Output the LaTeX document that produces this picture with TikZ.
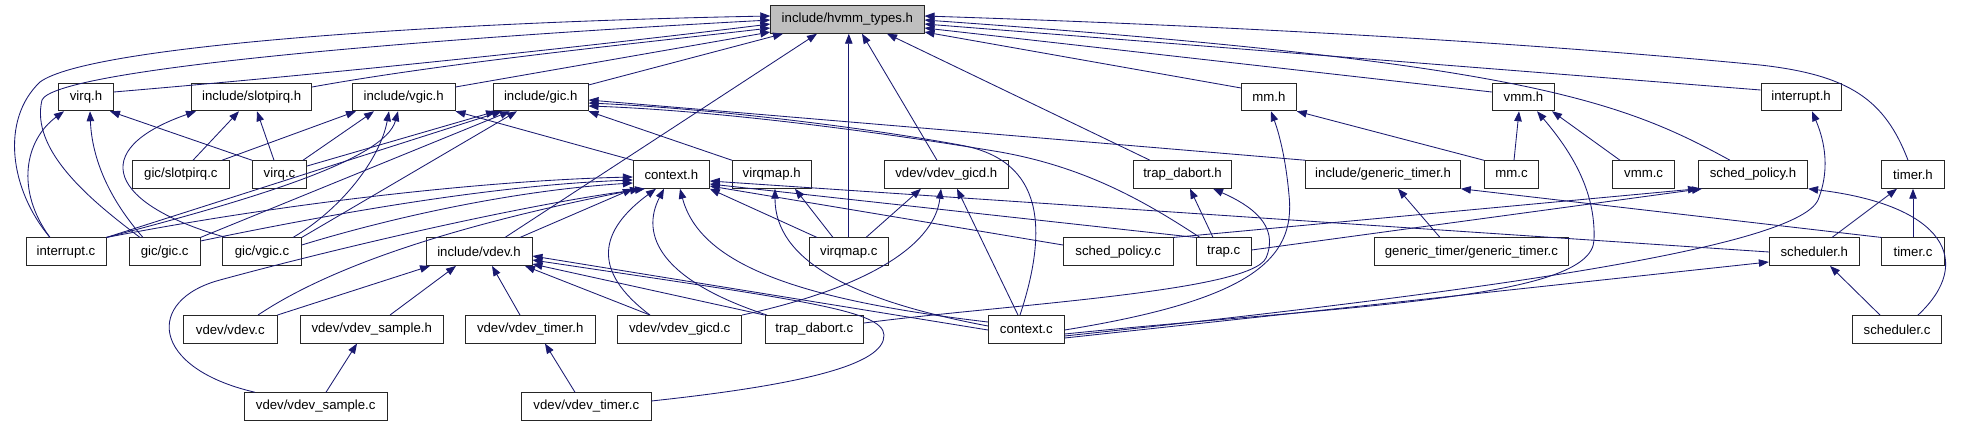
\documentclass[tikz,border=0pt]{standalone}
\usepackage{fontspec}
\setmainfont{Liberation Sans}
\usetikzlibrary{arrows.meta}
\definecolor{edgeblue}{HTML}{191970}
\definecolor{rootgray}{HTML}{BFBFBF}
\begin{document}
\begin{tikzpicture}[x=1pt,y=-1pt,
  nd/.style={draw=black!85,line width=0.9pt,fill=white,minimum height=27.6pt,inner sep=0pt,font=\fontsize{13.2}{15}\selectfont},
  edge/.style={draw=edgeblue,line width=0.85pt,-{Triangle[length=10pt,width=7.5pt]}}]
\useasboundingbox (0,0) rectangle (1967,427);
% row 0
\node[nd,minimum width=153.3pt,fill=rootgray] (hvmm) at (847.4,19.5) {include/hvmm\_types.h};
% row 1
\node[nd,minimum width=54.6pt] (virqh) at (86,97) {virq.h};
\node[nd,minimum width=120pt] (slotpirqh) at (251.7,97) {include/slotpirq.h};
\node[nd,minimum width=102.7pt] (vgich) at (403.7,97) {include/vgic.h};
\node[nd,minimum width=94.7pt] (gich) at (540.7,97) {include/gic.h};
\node[nd,minimum width=54.8pt] (mmh) at (1268.9,97) {mm.h};
\node[nd,minimum width=62.6pt] (vmmh) at (1523.5,97) {vmm.h};
\node[nd,minimum width=80.2pt] (interrupth) at (1801.1,97) {interrupt.h};
% row 2
\node[nd,minimum width=96.3pt] (slotpirqc) at (180.9,174.5) {gic/slotpirq.c};
\node[nd,minimum width=54.4pt] (virqc) at (279.5,174.5) {virq.c};
\node[nd,minimum width=76pt] (contexth) at (671.3,174.5) {context.h};
\node[nd,minimum width=78.7pt] (virqmaph) at (771.7,174.5) {virqmap.h};
\node[nd,minimum width=124pt] (gicdh) at (946.3,174.5) {vdev/vdev\_gicd.h};
\node[nd,minimum width=98.4pt] (trapdaborth) at (1182.5,174.5) {trap\_dabort.h};
\node[nd,minimum width=154.6pt] (gtimerh) at (1383.1,174.5) {include/generic\_timer.h};
\node[nd,minimum width=54.6pt] (mmc) at (1511.6,174.5) {mm.c};
\node[nd,minimum width=62.6pt] (vmmc) at (1643.6,174.5) {vmm.c};
\node[nd,minimum width=109.2pt] (schedpolh) at (1753,174.5) {sched\_policy.h};
\node[nd,minimum width=62.6pt] (timerh) at (1913,174.5) {timer.h};
% row 3
\node[nd,minimum width=80pt] (interruptc) at (66,251.7) {interrupt.c};
\node[nd,minimum width=70.7pt] (gicc) at (164.7,251.7) {gic/gic.c};
\node[nd,minimum width=78.6pt] (vgicc) at (262,251.7) {gic/vgic.c};
\node[nd,minimum width=106pt] (vdevh) at (479,251.7) {include/vdev.h};
\node[nd,minimum width=79pt] (virqmapc) at (848.8,251.7) {virqmap.c};
\node[nd,minimum width=109.5pt] (schedpolc) at (1118.2,251.7) {sched\_policy.c};
\node[nd,minimum width=55pt] (trapc) at (1223.7,251.7) {trap.c};
\node[nd,minimum width=193.6pt] (gtimerc) at (1471.4,251.7) {generic\_timer/generic\_timer.c};
\node[nd,minimum width=90pt] (schedh) at (1814.3,251.7) {scheduler.h};
\node[nd,minimum width=62.6pt] (timerc) at (1913,251.7) {timer.c};
% row 4
\node[nd,minimum width=93.3pt] (vdevc) at (230.3,329.3) {vdev/vdev.c};
\node[nd,minimum width=142.7pt] (vsampleh) at (371.7,329.3) {vdev/vdev\_sample.h};
\node[nd,minimum width=129.7pt] (vtimerh) at (530.2,329.3) {vdev/vdev\_timer.h};
\node[nd,minimum width=124pt] (gicdc) at (679.7,329.3) {vdev/vdev\_gicd.c};
\node[nd,minimum width=98.7pt] (trapdabortc) at (814.3,329.3) {trap\_dabort.c};
\node[nd,minimum width=75.8pt] (contextc) at (1026.3,329.3) {context.c};
\node[nd,minimum width=89.4pt] (schedc) at (1897.1,329.3) {scheduler.c};
% row 5
\node[nd,minimum width=142.7pt] (vsamplec) at (315.7,406.5) {vdev/vdev\_sample.c};
\node[nd,minimum width=129.3pt] (vtimerc) at (586.3,406.5) {vdev/vdev\_timer.c};

% ---- edges into include/hvmm_types.h
\draw[edge] (interruptc.north -| 50,0) .. controls (10,190) and (0,120) .. (40,82) .. controls (90,45) and (450,22) .. (hvmm.west |- 0,16);
\draw[edge] (gicc.north -| 140,0) .. controls (90,200) and (30,150) .. (42,100) .. controls (55,70) and (400,40) .. (hvmm.west |- 0,20);
\draw[edge] (virqh.east |- 0,92) .. controls (350,72) and (600,45) .. (hvmm.west |- 0,24);
\draw[edge] (slotpirqh.east |- 0,87) .. controls (450,62) and (650,42) .. (hvmm.west |- 0,28);
\draw[edge] (vgich.east |- 0,87) -- (hvmm.west |- 0,32);
\draw[edge] (gich.east |- 0,85) -- (783,0 |- hvmm.south);
\draw[edge] (505,0 |- vdevh.north) -- (817,0 |- hvmm.south);
\draw[edge] (virqmapc.north) -- (virqmapc.north |- hvmm.south);
\draw[edge] (937,0 |- gicdh.north) -- (862,0 |- hvmm.south);
\draw[edge] (1150,0 |- trapdaborth.north) -- (887,0 |- hvmm.south);
\draw[edge] (mmh.west |- 0,88) -- (hvmm.east |- 0,32);
\draw[edge] (vmmh.west |- 0,92) -- (hvmm.east |- 0,28);
\draw[edge] (interrupth.west |- 0,90) -- (hvmm.east |- 0,24);
\draw[edge] (1730,0 |- schedpolh.north) .. controls (1620,100) and (1520,62) .. (hvmm.east |- 0,20);
\draw[edge] (1908,0 |- timerh.north) .. controls (1885,100) and (1850,75) .. (1760,65) .. controls (1500,40) and (1200,25) .. (hvmm.east |- 0,16);
% ---- virq.h
\draw[edge] (interruptc.north -| 50,0) .. controls (15,190) and (25,140) .. (64,0 |- virqh.south);
\draw[edge] (143,0 |- gicc.north) .. controls (110,200) and (92,160) .. (90,0 |- virqh.south);
\draw[edge] (252,0 |- virqc.north) -- (110,0 |- virqh.south);
% ---- include/slotpirq.h
\draw[edge] (226,0 |- vgicc.north) .. controls (110,205) and (85,150) .. (196,0 |- slotpirqh.south);
\draw[edge] (193,0 |- slotpirqc.north) -- (239,0 |- slotpirqh.south);
\draw[edge] (274,0 |- virqc.north) -- (257,0 |- slotpirqh.south);
% ---- include/vgic.h
\draw[edge] (222,0 |- slotpirqc.north) -- (356,0 |- vgich.south);
\draw[edge] (303,0 |- virqc.north) -- (374,0 |- vgich.south);
\draw[edge] (293,0 |- vgicc.north) .. controls (340,210) and (380,160) .. (389,0 |- vgich.south);
\draw[edge] (interruptc.north east) .. controls (250,200) and (385,160) .. (398,0 |- vgich.south);
\draw[edge] (contexth.north west) -- (vgich.south east);
% ---- include/gic.h
\draw[edge] (virqc.east |- 0,166) -- (496,0 |- gich.south);
\draw[edge] (interruptc.north east) -- (502,0 |- gich.south);
\draw[edge] (gicc.north east) -- (510,0 |- gich.south);
\draw[edge] (vgicc.north east) -- (517,0 |- gich.south);
\draw[edge] (virqmaph.north west) -- (gich.south east);
\draw[edge] (gtimerh.north west) -- (gich.east |- 0,100);
\draw[edge] (1020,0 |- contextc.north) .. controls (1048,230) and (1045,160) .. (960,145) .. controls (850,125) and (700,108) .. (gich.east |- 0,103);
\draw[edge] (1200,0 |- trapc.north) .. controls (1150,205) and (1090,168) .. (1000,152) .. controls (850,127) and (700,110) .. (gich.east |- 0,106);
% ---- mm.h
\draw[edge] (mmc.north west) -- (mmh.south east);
\draw[edge] (contextc.east |- 0,330) .. controls (1250,300) and (1296,260) .. (1289,195) .. controls (1285,150) and (1276,125) .. (1271,0 |- mmh.south);
% ---- vmm.h
\draw[edge] (1514,0 |- mmc.north) -- (1519,0 |- vmmh.south);
\draw[edge] (1620,0 |- vmmc.north) -- (1552,0 |- vmmh.south);
\draw[edge] (contextc.east |- 0,334) .. controls (1350,305) and (1592,300) .. (1594,240) .. controls (1596,190) and (1570,150) .. (1537,0 |- vmmh.south);
% ---- interrupt.h
\draw[edge] (contextc.east |- 0,336) .. controls (1450,295) and (1795,250) .. (1818,200) .. controls (1832,165) and (1822,135) .. (1812,0 |- interrupth.south);
% ---- context.h
\draw[edge] (interruptc.north east) .. controls (300,200) and (500,180) .. (contexth.west |- 0,177);
\draw[edge] (gicc.east |- 0,241) .. controls (350,210) and (500,185) .. (contexth.west |- 0,180);
\draw[edge] (vgicc.east |- 0,245) .. controls (400,215) and (520,190) .. (contexth.west |- 0,183);
\draw[edge] (520,0 |- vdevh.north) -- (contexth.south west);
\draw[edge] (258,0 |- vdevc.north) .. controls (340,260) and (480,220) .. (640,0 |- contexth.south);
\draw[edge] (255,0 |- vsamplec.north) .. controls (150,368) and (145,300) .. (220,280) .. controls (330,250) and (520,205) .. (645,0 |- contexth.south);
\draw[edge] (650,0 |- gicdc.north) .. controls (590,270) and (600,230) .. (656,0 |- contexth.south);
\draw[edge] (767,0 |- trapdabortc.north) .. controls (660,280) and (640,235) .. (664,0 |- contexth.south);
\draw[edge] (contextc.west |- 0,322) .. controls (800,300) and (700,265) .. (680,0 |- contexth.south);
\draw[edge] (817,0 |- virqmapc.north) -- (contexth.south east);
\draw[edge] (schedpolc.west |- 0,245) -- (contexth.east |- 0,186);
\draw[edge] (trapc.north west) -- (contexth.east |- 0,184);
\draw[edge] (schedh.west |- 0,252) -- (contexth.east |- 0,181);
% ---- virqmap.h
\draw[edge] (833,0 |- virqmapc.north) -- (795,0 |- virqmaph.south);
\draw[edge] (contextc.west |- 0,326) .. controls (850,300) and (775,260) .. (775,0 |- virqmaph.south);
% ---- vdev/vdev_gicd.h
\draw[edge] (866,0 |- virqmapc.north) -- (921,0 |- gicdh.south);
\draw[edge] (gicdc.north east) .. controls (880,285) and (935,240) .. (941,0 |- gicdh.south);
\draw[edge] (1018,0 |- contextc.north) -- (957,0 |- gicdh.south);
% ---- trap_dabort.h
\draw[edge] (1213,0 |- trapc.north) -- (1190,0 |- trapdaborth.south);
\draw[edge] (trapdabortc.east |- 0,323) .. controls (1000,305) and (1250,292) .. (1266,258) .. controls (1280,225) and (1250,205) .. (1213,0 |- trapdaborth.south);
% ---- include/generic_timer.h
\draw[edge] (1440,0 |- gtimerc.north) -- (1398,0 |- gtimerh.south);
\draw[edge] (timerc.north west) -- (gtimerh.south east);
% ---- sched_policy.h
\draw[edge] (schedpolc.north east) -- (schedpolh.south west);
\draw[edge] (trapc.east |- 0,250) -- (1702,0 |- schedpolh.south);
\draw[edge] (1918,0 |- schedc.north) .. controls (1975,262) and (1945,205) .. (schedpolh.south east);
% ---- timer.h
\draw[edge] (1832,0 |- schedh.north) -- (1897,0 |- timerh.south);
\draw[edge] (timerc.north) -- (timerh.south);
% ---- scheduler.h
\draw[edge] (1880,0 |- schedc.north) -- (1830,0 |- schedh.south);
\draw[edge] (contextc.east |- 0,338) -- (schedh.west |- 0,262);
% ---- include/vdev.h
\draw[edge] (vdevc.north east) -- (430,0 |- vdevh.south);
\draw[edge] (390,0 |- vsampleh.north) -- (456,0 |- vdevh.south);
\draw[edge] (520,0 |- vtimerh.north) -- (492,0 |- vdevh.south);
\draw[edge] (650,0 |- gicdc.north) -- (525,0 |- vdevh.south);
\draw[edge] (trapdabortc.north west) -- (vdevh.east |- 0,264);
\draw[edge] (contextc.west |- 0,330) -- (vdevh.east |- 0,256);
\draw[edge] (vtimerc.east |- 0,401) .. controls (800,385) and (885,365) .. (884,335) .. controls (883,310) and (800,300) .. (vdevh.east |- 0,260);
% ---- vdev_sample.h / vdev_timer.h
\draw[edge] (326,0 |- vsamplec.north) -- (357,0 |- vsampleh.south);
\draw[edge] (575,0 |- vtimerc.north) -- (545,0 |- vtimerh.south);
\end{tikzpicture}
\end{document}
